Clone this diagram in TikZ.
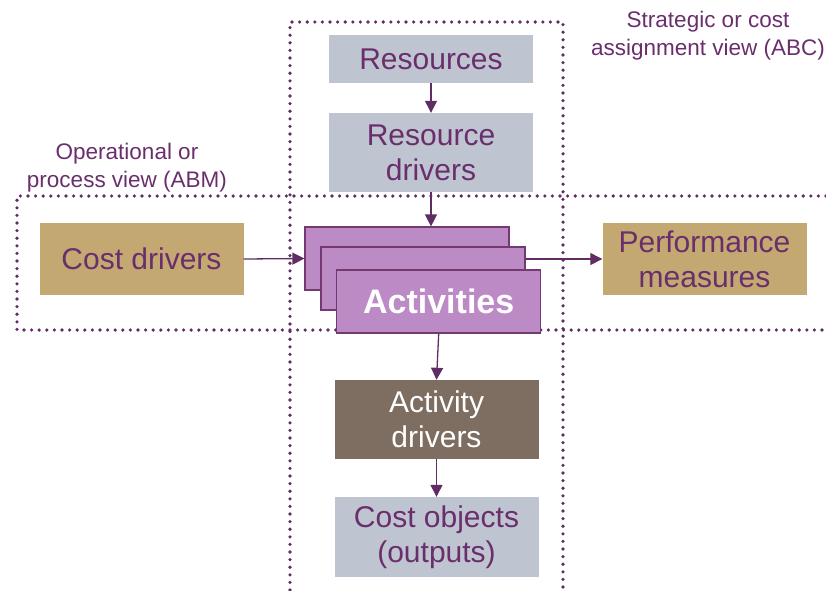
\documentclass[tikz,border=0pt]{standalone}
\usepackage{fontspec}
\setmainfont{Liberation Sans}
\usetikzlibrary{arrows.meta}
\definecolor{txtpurple}{HTML}{6A2E6C}
\definecolor{linepurple}{HTML}{5F2D63}
\definecolor{greybox}{HTML}{BFC5D0}
\definecolor{tanbox}{HTML}{C4A872}
\definecolor{brownbox}{HTML}{7E6D61}
\definecolor{actfill}{HTML}{BC8BC6}
\definecolor{actedge}{HTML}{74396F}
\tikzset{
  box/.style={rectangle, inner sep=0pt, minimum width=204pt, align=center,
    font=\fontsize{30}{35}\selectfont, text=txtpurple},
  greyb/.style={box, fill=greybox},
  tanb/.style={box, fill=tanbox, minimum height=72pt},
  brownb/.style={box, fill=brownbox, text=white, minimum height=79pt},
  actb/.style={rectangle, inner sep=0pt, minimum width=204pt, minimum height=63pt,
    fill=actfill, draw=actedge, line width=1.2pt},
  flow/.style={draw=linepurple, line width=1.3pt,
    -{Triangle[length=12pt, width=12pt]}},
  viewline/.style={draw=linepurple, line width=3.6pt, line cap=round,
    dash pattern=on 0pt off 7.6pt},
  viewlabel/.style={align=center, text=txtpurple,
    font=\fontsize{22.5}{28}\selectfont}
}
\begin{document}
\begin{tikzpicture}[x=1pt, y=-1pt]
\useasboundingbox (0,0) rectangle (826,590);

% view boundaries (dotted)
\draw[viewline] (290,590) -- (290,22) -- (563,22) -- (563,590);
\draw[viewline] (826,196) -- (17,196) -- (17,330) -- (826,330);

% view labels
\node[viewlabel] (abc) at (708,36) {Strategic or cost\\assignment view (ABC)};
\node[viewlabel] (abm) at (127,168) {Operational or\\process view (ABM)};

% boxes
\node[greyb, minimum height=48pt] (res) at (431,59) {Resources};
\node[greyb, minimum height=79pt] (rd) at (431,152.5) {Resource\\drivers};
\node[tanb] (cd) at (141.5,259) {Cost drivers};
\node[tanb] (pm) at (704.5,259) {Performance\\measures};

% stacked activities
\node[actb] (act1) at (407,258.5) {};
\node[actb] (act2) at (423,278.5) {};
\node[actb, text=white, font=\fontsize{34}{38}\selectfont\bfseries] (act3) at (438.7,301.5) {\raisebox{-2pt}{Activities}};

\node[brownb] (ad) at (436.5,419.5) {Activity\\drivers};
\node[greyb, minimum height=80pt] (co) at (436.5,537) {Cost objects\\(outputs)};

% flows
\draw[flow] (res.south) -- (rd.north);
\draw[flow] (rd.south) -- (rd.south |- act1.north);
\draw[flow] (cd.east) -- (act1.west);
\draw[flow] (act2.east |- pm.west) -- (pm.west);
\draw[flow] (act3.south) -- (ad.north);
\draw[flow] (ad.south) -- (co.north);
\end{tikzpicture}
\end{document}
